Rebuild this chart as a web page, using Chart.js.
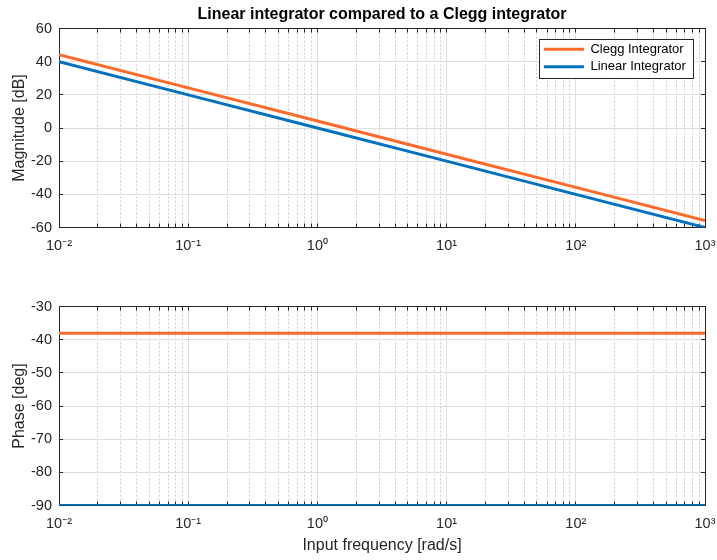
<!DOCTYPE html>
<html>
<head>
<meta charset="utf-8">
<script src="https://cdn.jsdelivr.net/npm/chart.js@4.4.1/dist/chart.umd.min.js"></script>
<style>
  html, body { margin: 0; padding: 0; background: #ffffff; }
  #wrap { position: relative; width: 717px; height: 560px; background: #ffffff; }
  canvas { position: absolute; left: 0; }
  #magCanvas { top: 0; }
  #phaseCanvas { top: 280px; }
</style>
</head>
<body>
<div id="wrap">
  <canvas id="magCanvas" width="717" height="280"></canvas>
  <canvas id="phaseCanvas" width="717" height="280"></canvas>
</div>
<script>
// ---- data ----
const frequencies = [0.01, 0.1, 1, 10, 100, 1000];           // rad/s
const cleggMagnitude = [44.2, 24.2, 4.2, -15.8, -35.8, -55.8]; // dB
const linearMagnitude = [40, 20, 0, -20, -40, -60];            // dB
const cleggPhase = [-38.1, -38.1, -38.1, -38.1, -38.1, -38.1]; // deg
const linearPhase = [-90, -90, -90, -90, -90, -90];            // deg
const seriesNames = ['Clegg Integrator', 'Linear Integrator'];

// ---- axis ticks ----
const decades = [0.01, 0.1, 1, 10, 100, 1000];
const decadeLabels = ['10⁻²', '10⁻¹', '10⁰', '10¹', '10²', '10³'];
const minorMultipliers = [2, 3, 4, 5, 6, 7, 8, 9];
const magnitudeTicks = [-60, -40, -20, 0, 20, 40, 60];
const phaseTicks = [-90, -80, -70, -60, -50, -40, -30];

// ---- styling ----
const ink = '#262626';
const majorGrid = '#dedede';
const minorGrid = '#cfcfcf';
const cleggColor = '#FF6A2B';
const linearColor = '#0072BD';
const family = "'Liberation Sans', Arial, Helvetica, sans-serif";
const tickFont = { family, size: 14.5 };
const labelFont = { family, size: 16 };
const plotRightGap = 12; // blank margin right of the plot box

function isDecade(v) {
  return decades.some(d => Math.abs(v / d - 1) < 1e-6);
}

// decade + 2..9 multiples, for the log grid
const frequencyGrid = [];
decades.forEach((d, i) => {
  frequencyGrid.push(d);
  if (i < decades.length - 1) minorMultipliers.forEach(m => frequencyGrid.push(d * m));
});

const minorDash = ctx => (ctx.tick && !isDecade(ctx.tick.value)) ? [2, 2] : [];
const gridColor = ctx => (ctx.tick && !isDecade(ctx.tick.value)) ? minorGrid : majorGrid;

function frequencyAxis(position, height, withLabels, title) {
  const axis = {
    type: 'logarithmic',
    position,
    min: decades[0],
    max: decades[decades.length - 1],
    afterBuildTicks: s => { s.ticks = frequencyGrid.map(v => ({ value: v })); },
    afterFit: s => { s.height = height; s.paddingLeft = 0; s.paddingRight = 0; },
    border: { display: true, color: ink, width: 1, dash: minorDash },
    grid: {
      drawOnChartArea: withLabels,
      color: gridColor,
      lineWidth: 1,
      drawTicks: true,
      tickLength: -4,
      tickColor: ink,
      tickBorderDash: []
    },
    ticks: {
      display: withLabels,
      autoSkip: false,
      maxRotation: 0,
      minRotation: 0,
      padding: 13.5,
      color: ink,
      font: tickFont,
      callback: v => {
        const k = decades.findIndex(d => Math.abs(v / d - 1) < 1e-6);
        return k >= 0 ? decadeLabels[k] : '';
      }
    }
  };
  if (title) {
    axis.title = { display: true, text: title, color: ink, font: labelFont, padding: { top: 0, bottom: 4.9 } };
  }
  return axis;
}

function valueAxis(position, tickValues, withLabels, title) {
  const axis = {
    type: 'linear',
    position,
    min: tickValues[0],
    max: tickValues[tickValues.length - 1],
    afterBuildTicks: s => { s.ticks = tickValues.map(v => ({ value: v })); },
    afterFit: s => { s.width = withLabels ? 59 : plotRightGap; },
    border: { display: true, color: ink, width: 1 },
    grid: {
      drawOnChartArea: withLabels,
      color: majorGrid,
      lineWidth: 1,
      drawTicks: true,
      tickLength: -4,
      tickColor: ink
    },
    ticks: { display: withLabels, padding: 11, color: ink, font: tickFont }
  };
  if (title) {
    axis.title = { display: true, text: title, color: ink, font: labelFont, padding: { top: 10, bottom: 0 } };
  }
  return axis;
}

function series(label, values, color) {
  return {
    label,
    data: frequencies.map((f, i) => ({ x: f, y: values[i] })),
    borderColor: color,
    backgroundColor: color,
    borderWidth: 3,
    pointRadius: 0,
    tension: 0,
    fill: false
  };
}

// legend sits in the top-right corner of the plot, boxed on a white background
const legendBox = {
  id: 'legendBox',
  afterLayout(chart) {
    const lg = chart.legend;
    if (!lg || !lg.legendHitBoxes) return;
    const ca = chart.chartArea;
    const pad = lg.options.labels.padding;
    const maxW = Math.max(...lg.legendHitBoxes.map(h => h.width));
    const itemX = ca.right - 19.2 - maxW;
    lg.left = itemX - pad;
    lg.right = ca.right;
    lg.width = lg.right - lg.left;
    lg.top = ca.top + 14.3 - pad;
    lg.bottom = ca.bottom;
    lg.height = lg.bottom - lg.top;
  },
  afterDatasetsDraw(chart) {
    const lg = chart.legend;
    if (!lg || !lg.legendHitBoxes) return;
    const pad = lg.options.labels.padding;
    const maxW = Math.max(...lg.legendHitBoxes.map(h => h.width));
    const n = lg.legendHitBoxes.length;
    const itemH = lg.legendHitBoxes[0].height;
    const x0 = lg.left + pad - 5;
    const x1 = lg.left + pad + maxW + 7.5;
    const y0 = lg.top + pad - 3.8;
    const y1 = lg.top + pad + (n - 1) * (itemH + pad) + itemH + 4.5;
    const ctx = chart.ctx;
    ctx.save();
    ctx.fillStyle = '#ffffff';
    ctx.fillRect(x0, y0, x1 - x0, y1 - y0);
    ctx.strokeStyle = ink;
    ctx.lineWidth = 1;
    ctx.strokeRect(Math.round(x0) + 0.5, Math.round(y0) + 0.5, Math.round(x1 - x0), Math.round(y1 - y0));
    ctx.restore();
    lg.draw();
  }
};

Chart.defaults.font.family = family;

new Chart(document.getElementById('magCanvas'), {
  type: 'line',
  data: {
    datasets: [
      series(seriesNames[0], cleggMagnitude, cleggColor),
      series(seriesNames[1], linearMagnitude, linearColor)
    ]
  },
  options: {
    responsive: false,
    animation: false,
    events: [],
    layout: { padding: { left: 0, right: 0, top: 0, bottom: 0 } },
    scales: {
      x: frequencyAxis('bottom', 52.5, true, null),
      x2: frequencyAxis('top', 0, false, null),
      y: valueAxis('left', magnitudeTicks, true, 'Magnitude [dB]'),
      y2: valueAxis('right', magnitudeTicks, false, null)
    },
    plugins: {
      title: {
        display: true,
        fullSize: false,
        text: 'Linear integrator compared to a Clegg integrator',
        color: '#000000',
        font: { family, size: 16, weight: 'bold' },
        padding: { top: 5.4, bottom: 3.9 }
      },
      legend: {
        display: true,
        position: 'chartArea',
        align: 'start',
        labels: {
          usePointStyle: true,
          pointStyle: 'line',
          pointStyleWidth: 40,
          padding: 4.4,
          color: '#000000',
          font: { family, size: 13 }
        }
      },
      tooltip: { enabled: false }
    }
  },
  plugins: [legendBox]
});

new Chart(document.getElementById('phaseCanvas'), {
  type: 'line',
  data: {
    datasets: [
      series(seriesNames[0], cleggPhase, cleggColor),
      series(seriesNames[1], linearPhase, linearColor)
    ]
  },
  options: {
    responsive: false,
    animation: false,
    events: [],
    layout: { padding: { left: 0, right: 0, top: 26.5, bottom: 0 } },
    scales: {
      x: frequencyAxis('bottom', 54.5, true, 'Input frequency [rad/s]'),
      x2: frequencyAxis('top', 0, false, null),
      y: valueAxis('left', phaseTicks, true, 'Phase [deg]'),
      y2: valueAxis('right', phaseTicks, false, null)
    },
    plugins: {
      legend: { display: false },
      title: { display: false },
      tooltip: { enabled: false }
    }
  }
});
</script>
</body>
</html>
